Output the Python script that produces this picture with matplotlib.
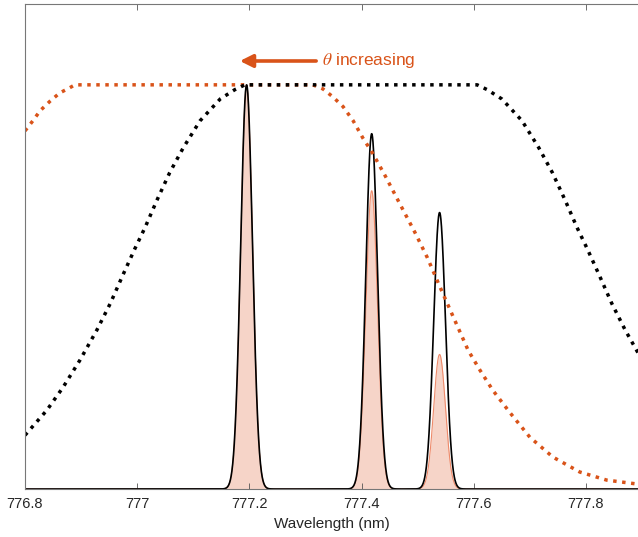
import numpy as np
import matplotlib.pyplot as plt

plt.rcParams['font.family'] = ['Liberation Sans', 'DejaVu Sans']
plt.rcParams['mathtext.fontset'] = 'stix'

# O I triplet lines
line_centers = [777.195, 777.418, 777.539]
line_heights = [1.0, 0.879, 0.684]       # black, unfiltered
filtered_heights = [1.0, 0.738, 0.333]   # orange, after tilted filter
line_sigma = 0.0105

# filter transmission curves (dotted)
filt0_x = [776.800, 776.839, 776.868, 776.898, 776.928, 776.952, 776.975, 776.996,
           777.014, 777.035, 777.058, 777.082, 777.112, 777.148, 777.174, 777.192,
           777.606, 777.624, 777.650, 777.686, 777.716, 777.740, 777.763, 777.784,
           777.802, 777.823, 777.846, 777.870, 777.900, 777.930]
filt0_y = [0.133, 0.195, 0.252, 0.319, 0.393, 0.459, 0.531, 0.595,
           0.647, 0.714, 0.783, 0.844, 0.911, 0.965, 0.988, 1.0,
           1.0, 0.988, 0.965, 0.911, 0.844, 0.783, 0.714, 0.647,
           0.595, 0.531, 0.459, 0.393, 0.319, 0.252]

filt1_x = [776.800, 776.814, 776.827, 776.845, 776.862, 776.880, 776.889,
           777.313, 777.331, 777.349, 777.367, 777.385, 777.402, 777.420, 777.442,
           777.468, 777.495, 777.517, 777.540, 777.563, 777.590, 777.611, 777.634,
           777.665, 777.700, 777.741, 777.789, 777.837, 777.893]
filt1_y = [0.886, 0.911, 0.936, 0.960, 0.980, 0.993, 1.0,
           1.0, 0.990, 0.970, 0.946, 0.911, 0.869, 0.830, 0.775,
           0.706, 0.635, 0.573, 0.499, 0.427, 0.343, 0.294, 0.244,
           0.188, 0.128, 0.079, 0.042, 0.022, 0.012]

orange = '#D95319'
wl = np.linspace(776.8, 777.9, 4000)


def spectrum(heights):
    s = np.zeros_like(wl)
    for c, h in zip(line_centers, heights):
        s += h * np.exp(-0.5 * ((wl - c) / line_sigma) ** 2)
    return s


fig = plt.figure(figsize=(6.38, 5.37), dpi=100)
ax = fig.add_axes([25 / 638, 48 / 537, 1 - 25 / 638, 485 / 537])

filt_spec = spectrum(filtered_heights)
ax.fill_between(wl, 0, filt_spec, color='#F6D4C8', lw=0)
ax.plot(wl, filt_spec, color='#EE8A6A', lw=0.8)
ax.plot(wl, spectrum(line_heights), color='black', lw=1.2)

dots = (0, (1.0, 1.6))
ax.plot(filt1_x, filt1_y, color=orange, lw=2.5, linestyle=dots)
ax.plot(filt0_x, filt0_y, color='black', lw=2.5, linestyle=dots)

ax.annotate('', xy=(777.183, 1.059), xytext=(777.319, 1.059),
            arrowprops=dict(arrowstyle='-|>', color=orange, lw=2.6,
                            mutation_scale=19, shrinkA=0, shrinkB=0))
ax.text(777.329, 1.059, r'$\theta$ increasing', color=orange, fontsize=12.5,
        va='center', ha='left')

ax.set_xlim(776.8, 777.8927)
ax.set_ylim(0, 1.2)
ax.set_xticks([776.8, 777.0, 777.2, 777.4, 777.6, 777.8])
ax.set_xticklabels(['776.8', '777', '777.2', '777.4', '777.6', '777.8'])
ax.set_yticks([])
ax.tick_params(axis='x', direction='in', top=True, length=4, width=0.6,
               color='#555555', labelsize=10.5, labelcolor='#262626', pad=6)
ax.spines['right'].set_visible(False)
for s in ['left', 'top', 'bottom']:
    ax.spines[s].set_color('#777777')
    ax.spines[s].set_linewidth(0.8)
ax.set_xlabel('Wavelength (nm)', fontsize=11, color='#262626', labelpad=4)

fig.savefig('out.png', dpi=100)
